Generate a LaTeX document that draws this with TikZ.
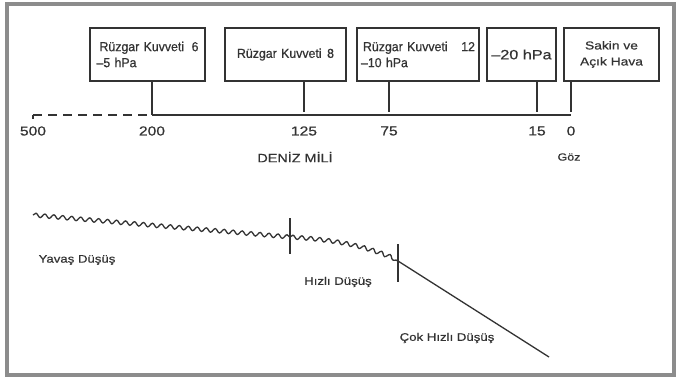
\documentclass[tikz,border=0pt]{standalone}
\usepackage{fontspec}
\setmainfont{Liberation Sans}
\newfontfamily\widefont[FakeStretch=1.2,FakeBold=0.5]{Liberation Sans}
\newfontfamily\boxfont[FakeStretch=0.95,FakeBold=0.6]{Liberation Sans}
\usetikzlibrary{decorations.pathmorphing}
\definecolor{ink}{HTML}{333333}
\definecolor{framegray}{HTML}{8C8C8C}
\tikzset{
  infobox/.style={draw=ink, line width=1.4pt, rectangle, minimum height=53pt, inner ysep=2pt, text=ink},
  boxtext/.style={font=\boxfont\fontsize{13}{16}\selectfont},
  axisline/.style={draw=ink, line width=1.3pt},
  lbl/.style={font=\widefont\fontsize{13}{14}\selectfont, text=ink, inner sep=0pt},
  small/.style={font=\widefont\fontsize{11}{12}\selectfont, text=ink, inner sep=0pt},
  wavy/.style={draw=ink, line width=1.3pt, decorate, decoration={snake, segment length=9pt, amplitude=2pt}},
}
\begin{document}
\begin{tikzpicture}[x=1pt,y=-1pt]
\useasboundingbox (0,0) rectangle (679,383);
\fill[white] (0,0) rectangle (679,383);
\draw[framegray, line width=4pt] (7,4) rectangle (674,375);

% boxes
\node[infobox, boxtext, text width=102pt, inner xsep=6.5pt, align=left] (b1) at (147.5,54.5) {\makebox[102pt][l]{\hspace{3pt}Rüzgar Kuvveti\hfill 6}\\[0pt]–5 hPa};
\node[infobox, boxtext, text width=97pt, inner xsep=12pt, align=left] (b2) at (285.5,54.5) {\makebox[97pt][l]{Rüzgar Kuvveti\hfill 8}};
\node[infobox, boxtext, text width=114pt, inner xsep=4pt, align=left] (b3) at (418,54.5) {\makebox[114pt][l]{\hspace{2pt}Rüzgar Kuvveti\hfill 12}\\[0pt]–10 hPa};
\node[infobox, text width=61pt, inner xsep=4pt, align=center, font=\widefont\fontsize{13.5}{16}\selectfont] (b4) at (521.5,54.5) {–20 hPa};
\node[infobox, text width=85pt, inner xsep=5pt, align=center, font=\widefont\fontsize{11.5}{16}\selectfont] (b5) at (611.5,54.5) {Sakin ve\\[0pt]Açık Hava};

% axis coordinates
\coordinate (t500) at (33,115);
\coordinate (t200) at (152,115);
\coordinate (t125) at (304,115);
\coordinate (t75) at (389,115);
\coordinate (t15) at (537,115);
\coordinate (t0) at (571,115);
\coordinate (t500d) at (33,119);

\draw[axisline, dashed, dash pattern=on 9pt off 6pt] (t500) -- (t200);
\draw[axisline] (t500) -- (t500d);
\draw[axisline] (t200) -- (t0);

\draw[axisline] (b1.south -| t200) -- (t200);
\draw[axisline] (b2.south -| t125) -- ([yshift=3pt]t125);
\draw[axisline] (b3.south -| t75) -- ([yshift=3pt]t75);
\draw[axisline] (b4.south -| t15) -- ([yshift=3pt]t15);
\draw[axisline] (b5.south -| t0) -- ([yshift=3pt]t0);

% axis labels
\node[lbl] (n500) at (33,131) {500};
\node[lbl] (n200) at (152,131) {200};
\node[lbl] (n125) at (304,131) {125};
\node[lbl] (n75) at (389,131) {75};
\node[lbl] (n15) at (537,131) {15};
\node[lbl] (n0) at (571,131) {0};
\node[lbl, font=\widefont\fontsize{12}{14}\selectfont] (deniz) at (295,157) {DENİZ MİLİ};
\node[small, font=\widefont\fontsize{10.4}{12}\selectfont] (goz) at (569,157) {Göz};

% curve
\coordinate (c0) at (33,215);
\coordinate (c1) at (290,237);
\coordinate (c2) at (398,261);
\coordinate (c3) at (549,357);
\coordinate (k1a) at (290,218);
\coordinate (k1b) at (290,254);
\coordinate (k2a) at (398,244);
\coordinate (k2b) at (398,282);

\draw[wavy] (c0) -- (c1);
\draw[wavy] (c1) .. controls (340,240) and (370,248) .. (c2);
\draw[draw=ink, line width=1.3pt] (c2) -- (c3);
\draw[draw=ink, line width=1.2pt] (k1a) -- (k1b);
\draw[draw=ink, line width=1.2pt] (k2a) -- (k2b);

\node[small] (yavas) at (77,260) {Yavaş Düşüş};
\node[small] (hizli) at (338,282) {Hızlı Düşüş};
\node[small] (cok) at (447,338) {Çok Hızlı Düşüş};
\end{tikzpicture}
\end{document}
